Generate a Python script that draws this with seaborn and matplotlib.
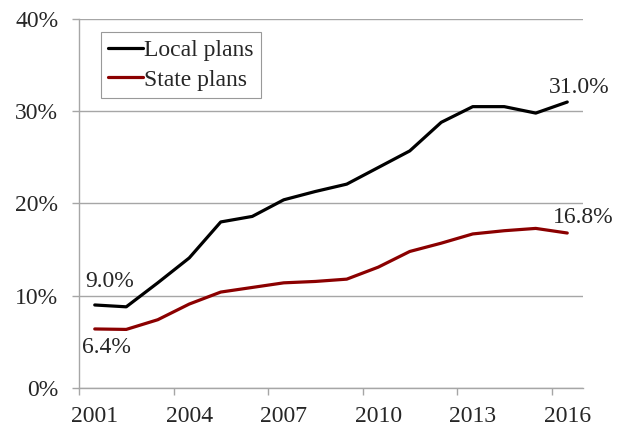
import matplotlib
matplotlib.use("Agg")
import matplotlib.pyplot as plt
import seaborn as sns
import pandas as pd
import numpy as np

years = list(range(2001, 2017))
local_plans = [9.0, 8.8, 11.4, 14.1, 18.0, 18.6, 20.4, 21.3, 22.1, 23.9, 25.7, 28.8, 30.5, 30.5, 29.8, 31.0]
state_plans = [6.4, 6.35, 7.4, 9.1, 10.4, 10.9, 11.4, 11.55, 11.8, 13.1, 14.8, 15.7, 16.7, 17.05, 17.3, 16.8]
series_names = ["Local plans", "State plans"]
series_colors = ["#000000", "#8B0000"]
y_ticks = [0, 10, 20, 30, 40]
x_label_years = [2001, 2004, 2007, 2010, 2013, 2016]

sns.set_theme(style="white")
plt.rcParams["font.family"] = ["Liberation Serif", "DejaVu Serif"]

FS = 17

df = pd.DataFrame({
    "pos": list(range(len(years))) * 2,
    "value": local_plans + state_plans,
    "series": [series_names[0]] * len(years) + [series_names[1]] * len(years),
})

fig = plt.figure(figsize=(6.23, 4.30), dpi=100)
ax = fig.add_axes([79 / 623, 1 - 388 / 430, 504 / 623, 369 / 430])

sns.lineplot(data=df, x="pos", y="value", hue="series", palette=series_colors,
             linewidth=2.3, ax=ax, legend=True)

ax.set_xlim(-0.5, len(years) - 0.5)
ax.set_ylim(0, 40)

for yt in y_ticks:
    ax.axhline(yt, color="#a6a6a6", linewidth=1.0, zorder=0)

ax.set_yticks(y_ticks)
ax.set_yticklabels([f"{v}%" for v in y_ticks], fontsize=FS)
ax.tick_params(axis="y", direction="out", length=5, width=1, color="#a6a6a6", pad=10, left=True)

boundaries = [years.index(y) - 0.5 for y in x_label_years]
ax.set_xticks(boundaries)
ax.set_xticklabels([])
ax.tick_params(axis="x", which="major", direction="out", length=5, width=1, color="#a6a6a6", bottom=True)
ax.set_xticks([years.index(y) for y in x_label_years], minor=True)
ax.set_xticklabels([str(y) for y in x_label_years], minor=True, fontsize=FS)
ax.tick_params(axis="x", which="minor", length=0, pad=13)

ax.set_xlabel("")
ax.set_ylabel("")
for s in ["top", "right"]:
    ax.spines[s].set_visible(False)
for s in ["left", "bottom"]:
    ax.spines[s].set_color("#a6a6a6")
    ax.spines[s].set_linewidth(1.0)

leg = ax.legend(loc="upper left", bbox_to_anchor=((100.7 - 79) / 504, (388 - 32.3) / 369),
                fontsize=FS, frameon=True, fancybox=False, handlelength=1.5,
                handletextpad=0.05, borderpad=0.3, labelspacing=0.35, borderaxespad=0)
leg.get_frame().set_edgecolor("#808080")
leg.get_frame().set_linewidth(0.8)
for h in leg.get_lines():
    h.set_linewidth(2.3)

px = 0.72
def lab(xi, val, dx, dy):
    ax.annotate(f"{val:.1f}%", xy=(xi, val), xytext=(dx * px, dy * px),
                textcoords="offset points", ha="center", va="center", fontsize=FS)

last = len(years) - 1
lab(last, local_plans[-1], 12, 15)
lab(last, state_plans[-1], 16, 16)
lab(0, local_plans[0], 15, 23)
lab(0, state_plans[0], 12, -19)

fig.savefig("out.png", dpi=100)
